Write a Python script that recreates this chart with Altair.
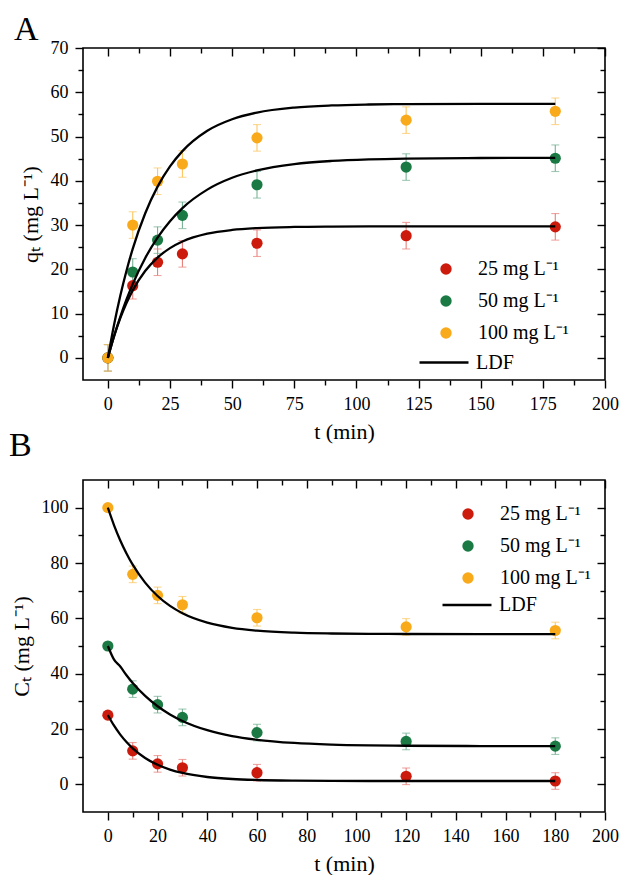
import altair as alt
import pandas as pd

# ---------------- data ----------------
SERIES = ["25 mg L⁻¹", "50 mg L⁻¹", "100 mg L⁻¹"]
POINT_COLORS = ["#cc1a0c", "#1b7a44", "#f9aa1b"]
ERR_COLORS = ["#e8807a", "#78b295", "#fcc763"]

T = [0, 10, 20, 30, 60, 120, 180]

# Panel A: q_t
qA_25 = [0.0, 16.3, 21.6, 23.5, 25.9, 27.6, 29.6]
qA_50 = [0.0, 19.4, 26.6, 32.2, 39.1, 43.1, 45.1]
qA_100 = [0.0, 30.0, 39.9, 43.8, 49.7, 53.7, 55.7]
errA_25 = [3, 3, 3, 3, 3, 3, 3]
errA_50 = [3, 3, 3, 3, 3, 3, 3]
errA_100 = [3, 3, 3, 3, 3, 3, 3]

# Panel B: C_t
cB_25 = [25.0, 12.1, 7.4, 6.0, 4.2, 2.9, 1.2]
cB_50 = [50.0, 34.4, 28.8, 24.2, 18.7, 15.5, 13.8]
cB_100 = [100.0, 75.9, 68.3, 64.9, 60.2, 56.9, 55.6]
errB_25 = [1, 3, 3, 3, 3, 3, 3]
errB_50 = [1, 3, 3, 3, 3, 3, 3]
errB_100 = [1, 3, 3, 3, 3, 3, 3]

# LDF curves
T_FIT = [0, 2.5, 5, 7.5, 10, 15, 20, 25, 30, 40, 50, 60, 75, 90, 105, 120, 150, 180]
fitA_25 = [0, 4.89, 8.98, 12.39, 15.24, 19.61, 22.66, 24.79, 26.28, 28.04, 28.89, 29.31,
           29.57, 29.66, 29.69, 29.7, 29.7, 29.7]
fitA_50 = [0, 4.91, 9.28, 13.19, 16.66, 22.52, 27.18, 30.87, 33.83, 38.01, 40.68, 42.34,
           43.77, 44.48, 44.84, 45.02, 45.15, 45.2]
fitA_100 = [0, 7.50, 14.02, 19.69, 24.62, 32.62, 38.68, 43.24, 46.70, 51.30, 53.91, 55.41,
            56.54, 57.03, 57.24, 57.33, 57.39, 57.4]
fitB_25 = [25, 21.18, 17.98, 15.29, 13.03, 9.53, 7.08, 5.34, 4.10, 2.65, 1.92, 1.56,
           1.32, 1.24, 1.21, 1.2, 1.2, 1.2]
fitB_50 = [50, 45.05, 42.58, 39.43, 36.64, 31.97, 28.24, 25.28, 22.92, 19.56, 17.42, 16.09,
           14.95, 14.38, 14.09, 13.94, 13.84, 13.8]
fitB_100 = [100, 93.63, 88.16, 83.46, 79.39, 72.90, 68.06, 64.49, 61.84, 58.45, 56.58, 55.55,
            54.81, 54.51, 54.38, 54.34, 54.3, 54.3]

W, H = 522, 332
FONT = "Liberation Serif"
LBL = 18
TTL = 22


def points_df(vals, errs):
    rows = []
    for s, v, e in zip(SERIES, vals, errs):
        for t, y, d in zip(T, v, e):
            rows.append({"t": t, "v": y, "lo": y - d, "hi": y + d, "s": s})
    return pd.DataFrame(rows)


def fit_df(fits):
    rows = []
    for s, f in zip(SERIES, fits):
        for t, y in zip(T_FIT, f):
            rows.append({"t": t, "v": y, "s": s, "m": "LDF"})
    return pd.DataFrame(rows)


def axis(values, size, orient, labels=False, title=None, offset=None):
    kw = dict(values=values, tickSize=size, labels=labels, orient=orient,
              labelFont=FONT, labelFontSize=LBL, labelColor="black", labelPadding=7,
              labelFlush=False, labelOverlap=False, tickColor="black", tickWidth=1.4,
              domain=False, grid=False, minExtent=0)
    if title is not None:
        kw.update(title=title, titleFont=FONT, titleFontSize=TTL, titleFontWeight="normal",
                  titleColor="black", titlePadding=8)
    else:
        kw["title"] = None
    if offset is not None:
        kw["offset"] = offset
    return alt.Axis(**kw)


def panel(pdf, fdf, xdom, xmaj, xmin, ydom, ymaj, ymin, ytitle, letter, letter_x,
          letter_y, leg_pts, leg_line):
    xs = alt.Scale(domain=xdom, nice=False, zero=False)
    ys = alt.Scale(domain=ydom, nice=False, zero=False)

    errc = alt.Color("s:N", scale=alt.Scale(domain=SERIES, range=ERR_COLORS), legend=None)

    rules = alt.Chart(pdf).mark_rule(strokeWidth=1.1).encode(
        x=alt.X("t:Q", scale=xs, axis=axis(xmin, 5, "bottom")),
        y=alt.Y("lo:Q", scale=ys, axis=axis(ymin, 5, "left")),
        y2="hi:Q",
        color=errc,
    )
    caps = alt.Chart(pdf).transform_fold(["lo", "hi"], as_=["k", "yv"]).mark_tick(
        orient="horizontal", size=8, thickness=1.1
    ).encode(
        x=alt.X("t:Q", scale=xs, axis=axis(xmaj, 8, "bottom", offset=-H)),
        y=alt.Y("yv:Q", scale=ys, axis=axis(ymaj, 8, "left", offset=-W)),
        color=errc,
    )
    pts = alt.Chart(pdf).mark_circle(size=125, opacity=1).encode(
        x=alt.X("t:Q", scale=xs, axis=axis(xmin, 5, "bottom", offset=-H)),
        y=alt.Y("v:Q", scale=ys, axis=axis(ymin, 5, "left", offset=-W)),
        color=alt.Color(
            "s:N",
            scale=alt.Scale(domain=SERIES, range=POINT_COLORS),
            legend=alt.Legend(
                title=None, orient="none", legendX=leg_pts[0], legendY=leg_pts[1],
                symbolType="circle", symbolSize=130, symbolStrokeWidth=0,
                symbolOpacity=1, labelFont=FONT, labelFontSize=20, labelColor="black",
                labelOffset=22, rowPadding=12, padding=0,
            ),
        ),
    )
    lines = alt.Chart(fdf).mark_line(strokeWidth=2.3, interpolate="monotone").encode(
        x=alt.X("t:Q", scale=xs, axis=axis(xmaj, 8, "bottom", labels=True, title="t (min)")),
        y=alt.Y("v:Q", scale=ys, axis=axis(ymaj, 8, "left", labels=True, title=ytitle)),
        detail="s:N",
        stroke=alt.Stroke(
            "m:N",
            scale=alt.Scale(domain=["LDF"], range=["black"]),
            legend=alt.Legend(
                title=None, orient="none", legendX=leg_line[0], legendY=leg_line[1],
                symbolType="stroke", symbolSize=2400, symbolStrokeWidth=2.5,
                labelFont=FONT, labelFontSize=20, labelColor="black",
                labelOffset=6, padding=0,
            ),
        ),
    )
    tag = alt.Chart(pd.DataFrame({"lab": [letter]})).mark_text(
        font=FONT, fontSize=34, align="left", baseline="alphabetic", color="black"
    ).encode(text="lab:N", x=alt.value(letter_x), y=alt.value(letter_y))

    return alt.layer(rules, caps, pts, lines, tag).resolve_scale(
        color="independent"
    ).resolve_axis(x="independent", y="independent").properties(width=W, height=H)


top = panel(
    points_df([qA_25, qA_50, qA_100], [errA_25, errA_50, errA_100]),
    fit_df([fitA_25, fitA_50, fitA_100]),
    [-10, 200], list(range(0, 201, 25)), [12.5 + 25 * i for i in range(8)],
    [-5, 70], list(range(0, 71, 10)), [5 + 10 * i for i in range(7)],
    "qₜ (mg L⁻¹)", "A", -69, -8, (353, 211), (335, 288.5),
)
bottom = panel(
    points_df([cB_25, cB_50, cB_100], [errB_25, errB_50, errB_100]),
    fit_df([fitB_25, fitB_50, fitB_100]),
    [-10, 200], list(range(0, 201, 20)), [10 + 20 * i for i in range(10)],
    [-10, 110], list(range(0, 101, 20)), [10 + 20 * i for i in range(5)],
    "Cₜ (mg L⁻¹)", "B", -74, -24, (375, 24), (358, 99),
)

chart = alt.vconcat(top, bottom, spacing=100, bounds="flush").resolve_scale(
    color="independent", stroke="independent"
).properties(
    padding={"left": 0, "top": 4, "right": 0, "bottom": 0}
).configure_view(stroke="black", strokeWidth=1.6)

chart.save("out.html", embed_options={"renderer": "svg", "actions": False})
